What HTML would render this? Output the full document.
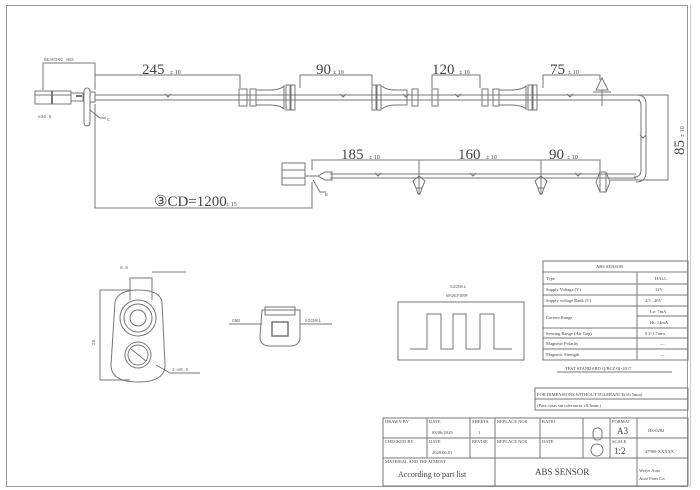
<!DOCTYPE html>
<html><head><meta charset="utf-8"><style>
html,body{margin:0;padding:0;background:#fff;}
svg{display:block;}
text{font-family:"Liberation Serif",serif;fill:#444;}
.m{font-family:"Liberation Mono",monospace;font-size:4.5px;fill:#666;}
</style></head><body>
<svg width="700" height="490" viewBox="0 0 700 490" xmlns="http://www.w3.org/2000/svg">
<g fill="none" stroke="#777" stroke-width="1">
<rect x="6.5" y="5.5" width="681" height="481" stroke="#999"/>
<line x1="690.5" y1="5" x2="690.5" y2="487" stroke="#ccc"/>

<rect x="35" y="91" width="36" height="13"/>
<line x1="35" y1="95" x2="71" y2="95"/>
<line x1="52" y1="91" x2="52" y2="104" stroke-width="2"/>
<rect x="71" y="93" width="12" height="8"/>
<line x1="76" y1="96" x2="82" y2="96" stroke-width="2"/>
<rect x="84" y="88" width="6" height="38" rx="3"/>
<rect x="90" y="92" width="5" height="10"/>
<line x1="95" y1="95" x2="640" y2="95"/>
<line x1="95" y1="100" x2="640" y2="100"/>
<path d="M637 95 Q646 95 646 104 L646 172 Q646 182 636 182 M637 100 Q641 100 641 106 L641 170 Q641 177 634 177"/>
<rect x="239" y="89" width="8" height="17"/>
<rect x="250" y="89" width="6" height="17"/>
<path d="M256 90 L270 90 Q280 90 284 86 L284 109 Q280 105 270 105 L256 105"/>
<rect x="286" y="85" width="4" height="25"/>
<rect x="291" y="85" width="4" height="25"/>
<g transform="translate(72 0)">
<rect x="300" y="85" width="4" height="25"/>
<rect x="305" y="85" width="4" height="25"/>
<path d="M310 86 Q314 90 324 90 L335 90 L335 105 L324 105 Q314 105 310 109"/>
<rect x="340" y="89" width="6" height="17"/>
</g>
<rect x="432" y="89" width="6" height="17"/>
<rect x="482" y="89" width="6" height="17"/>
<rect x="493" y="89" width="6" height="17"/>
<path d="M499 90 L510 90 Q522 90 526 86 L526 109 Q522 105 510 105 L499 105"/>
<rect x="528" y="85" width="4" height="25"/>
<rect x="533" y="85" width="4" height="25"/>
<path d="M165 94 l3 3 l3 -3 M340 94 l3 3 l3 -3 M403 94 l3 3 l3 -3 M455 94 l3 3 l3 -3 M567 94 l3 3 l3 -3"/>
<path d="M596 90 L602 78 L608 90 Z M593 92 L611 92 M602 90 L602 106"/>
<line x1="330" y1="174" x2="636" y2="174"/>
<line x1="330" y1="178" x2="636" y2="178"/>
<path d="M318 176 L325 172 L332 172 L332 180 L325 180 Z"/>
<line x1="305" y1="176" x2="318" y2="176"/>
<rect x="282" y="163" width="23" height="22"/>
<line x1="282" y1="170" x2="305" y2="170"/><line x1="282" y1="178" x2="305" y2="178"/>
<path d="M375 173 l3 3 l3 -3 M470 173 l3 3 l3 -3 M575 173 l3 3 l3 -3 M640 135 l3 3 l3 -3"/>
<path d="M413 181 L419 176 L425 181 L422 188 L416 188 Z M419 160 L419 195 M416 188 L418 194 L420 194 L422 188"/>
<path d="M535 181 L541 176 L547 181 L544 188 L538 188 Z M541 160 L541 195 M538 188 L540 194 L542 194 L544 188"/>
<path d="M596 182 L600 172 L606 172 L610 182 L606 192 L600 192 Z M600 172 L600 192 M606 172 L606 192"/>

<path d="M43 90 L43 63 L95 63 L95 90"/>
<path d="M95 88 L95 75 L240 75 L240 88"/>
<path d="M300 88 L300 84 L300 75 L372 75 L372 88"/>
<path d="M432 88 L432 75 L480 75 L480 88"/>
<path d="M543 88 L543 75 L600 75 L600 80"/>
<path d="M610 95 L668 95 L668 180 L610 180"/>
<path d="M312 170 L312 160 L600 160 L600 172 M419 160 L419 170 M541 160 L541 170"/>
<path d="M95 104 L95 208 L312 208 L312 182"/>
<path d="M90 110 L100 118 L106 118"/>
<path d="M313 180 L320 192 L326 192"/>
</g>
<g font-size="15">
<text x="142" y="74">245</text><text x="170" y="74" font-size="6">± 10</text>
<text x="316" y="74">90</text><text x="333" y="74" font-size="6">± 10</text>
<text x="432" y="74">120</text><text x="459" y="74" font-size="6">± 10</text>
<text x="550" y="74">75</text><text x="568" y="74" font-size="6">± 10</text>
<text x="341" y="159">185</text><text x="369" y="159" font-size="6">± 10</text>
<text x="458" y="159">160</text><text x="486" y="159" font-size="6">± 10</text>
<text x="549" y="159">90</text><text x="567" y="159" font-size="6">± 10</text>
<text x="154" y="206">③CD=1200</text><text x="226" y="206" font-size="6">± 15</text>
<text transform="translate(684 155) rotate(-90)">85</text><text transform="translate(684 137) rotate(-90)" font-size="6">± 10</text>
</g>
<text class="m" x="44" y="61">BEARING ABS</text>
<text class="m" x="38" y="118">∅38.5</text>
<text class="m" x="107" y="121">C</text>
<text class="m" x="325" y="196">B</text>

<g fill="none" stroke="#777">
<path d="M115 302 Q118 290 138 290 Q160 290 162 302 L165 365 Q165 382 138 382 Q111 382 111 365 Z"/>
<circle cx="138" cy="318" r="18"/><circle cx="138" cy="318" r="14"/><circle cx="138" cy="318" r="8"/>
<circle cx="138" cy="355" r="13"/><circle cx="138" cy="355" r="10"/>
<line x1="131" y1="349" x2="146" y2="361"/>
<path d="M130 300 L130 278 L152 278 L152 300 M152 272 L186 272"/>
<path d="M100 290 L100 380 M100 290 L130 290 M100 380 L130 380"/>
<path d="M156 365 L170 373 L200 373"/>
<path d="M262 310 L300 310 L300 337 Q300 346 290 346 L270 346 Q260 346 260 337 Z"/>
<rect x="265" y="307" width="30" height="8"/>
<rect x="272" y="322" width="16" height="14" stroke-width="1.5"/>
<path d="M229 324 L262 324 M300 324 L332 324"/>
<rect x="398" y="302" width="126" height="58"/>
<path d="M410 349 L427 349 L427 314 L441 314 L441 349 L453 349 L453 314 L466 314 L466 349 L480 349 L480 314 L494 314 L494 349 L512 349"/>
<rect x="543" y="261" width="145" height="99"/>
<path d="M543 272 H688 M543 284 H688 M543 295 H688 M543 306 H688 M637 316 H688 M543 328 H688 M543 338 H688 M543 349 H688 M637 272 V360"/>
<line x1="557" y1="372" x2="672" y2="372"/>
<rect x="535" y="388" width="153" height="22"/>
<line x1="535" y1="399" x2="688" y2="399"/>
<rect x="383" y="418" width="305" height="68"/>
<path d="M383 438 H637 M383 458 H688 M637 438 H688 M427 418 V458 M470 418 V458 M495 418 V486 M540 418 V458 M583 418 V458 M610 418 V458 M637 418 V486"/>
<rect x="593" y="428" width="9" height="12" rx="4"/>
<circle cx="597" cy="450" r="6"/>
</g>
<text class="m" x="120" y="269">6.5</text>
<text class="m" x="95" y="345" transform="rotate(-90 95 345)">25</text>
<text class="m" x="172" y="371">2-∅6.5</text>
<text class="m" x="232" y="322">GND</text><text class="m" x="305" y="322">SIGNAL</text>
<text class="m" x="450" y="288">SIGNAL</text><text class="m" x="446" y="297">WAVEFORM</text>
<g class="m">
<text x="596" y="268">ABS SENSOR</text>
<text x="546" y="280">Type</text><text x="655" y="280">HALL</text>
<text x="546" y="291">Supply Voltage (V)</text><text x="655" y="291">12V</text>
<text x="546" y="302">Supply voltage Rank (V)</text><text x="645" y="302">4.5...20V</text>
<text x="546" y="319">Current Range</text><text x="650" y="313">Lo: 7mA</text><text x="650" y="324">Hi: 14mA</text>
<text x="546" y="335">Sensing Range (Air Gap)</text><text x="645" y="335">0.2-1.7mm</text>
<text x="546" y="345">Magnetic Polarity</text><text x="660" y="345">—</text>
<text x="546" y="356">Magnetic Strength</text><text x="660" y="356">—</text>
<text x="565" y="370">TEST STANDARD Q/RCZ 01-2017</text>
<text x="537" y="396">FOR DIMENSIONS WITHOUT TOLERANCE(±0.5mm)</text>
<text x="537" y="407">(Para cotas sin tolerancia ±0.5mm.)</text>
<text x="385" y="423">DRAWN BY</text><text x="429" y="423">DATE</text><text x="432" y="434">03/06/2019</text>
<text x="472" y="423">SHEETS</text><text x="478" y="434">1</text>
<text x="497" y="423">REPLACE NOS</text><text x="542" y="423">RATIO</text>
<text x="385" y="443">CHECKED BY</text><text x="429" y="443">DATE</text><text x="432" y="454">2020.06.01</text>
<text x="472" y="443">REVISE</text><text x="497" y="443">REPLACE NOS</text><text x="542" y="443">DATE</text>
<text x="385" y="463">MATERIAL AND TREATMENT</text>
<text x="648" y="432">HS-0282</text><text x="645" y="453">47900-XXXXX</text>
<text x="639" y="472">Weiye Auto</text><text x="639" y="480">Auto Parts Co.</text>
<text x="612" y="423">FORMAT</text><text x="612" y="443">SCALE</text>
</g>
<text x="617" y="434" font-size="9">A3</text>
<text x="614" y="454" font-size="9">1:2</text>
<text x="398" y="477" font-size="8" font-family="Liberation Mono">According to part list</text>
<text x="535" y="475" font-size="9">ABS SENSOR</text>
</svg>
</body></html>
